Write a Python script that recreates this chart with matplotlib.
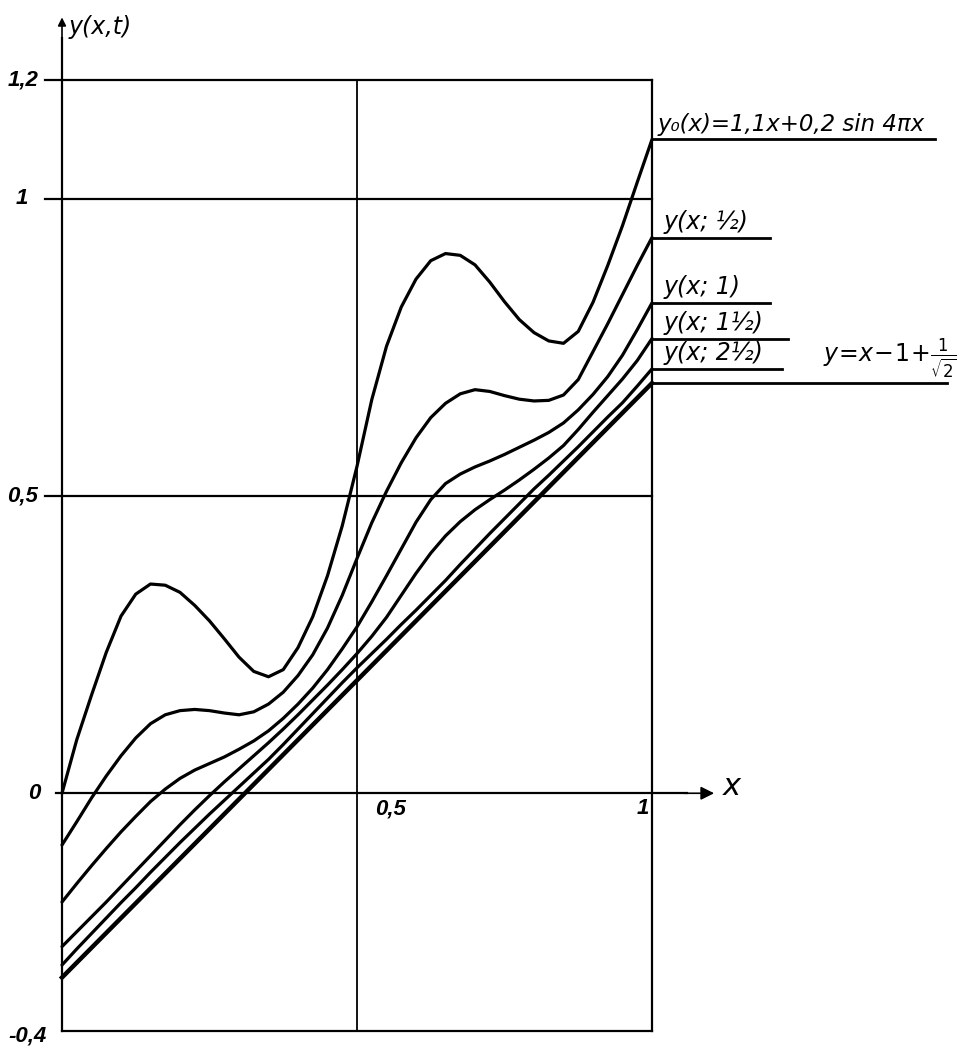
import matplotlib
matplotlib.use("Agg")
import matplotlib.pyplot as plt

# ---- data ----
X = [i * 0.025 for i in range(41)]

Y0 = [0.0, 0.09, 0.165, 0.237, 0.298, 0.335, 0.352, 0.350, 0.338, 0.316,
      0.290, 0.260, 0.229, 0.205, 0.196, 0.208, 0.245, 0.297, 0.366, 0.450,
      0.550, 0.662, 0.752, 0.818, 0.865, 0.896, 0.908, 0.905, 0.889, 0.860,
      0.827, 0.797, 0.775, 0.761, 0.757, 0.777, 0.826, 0.888, 0.955, 1.028, 1.10]

Y_HALF = [-0.087, -0.048, -0.008, 0.029, 0.063, 0.093, 0.117, 0.132, 0.139, 0.141,
          0.139, 0.135, 0.132, 0.137, 0.150, 0.170, 0.198, 0.233, 0.278, 0.333,
          0.395, 0.455, 0.508, 0.556, 0.598, 0.632, 0.656, 0.672, 0.679, 0.676,
          0.669, 0.663, 0.660, 0.661, 0.670, 0.696, 0.743, 0.790, 0.839, 0.888, 0.935]

Y_ONE = [-0.183, -0.152, -0.122, -0.093, -0.065, -0.039, -0.014, 0.007, 0.025, 0.039,
         0.05, 0.061, 0.074, 0.088, 0.105, 0.126, 0.15, 0.177, 0.208, 0.243,
         0.28, 0.322, 0.366, 0.411, 0.456, 0.494, 0.521, 0.537, 0.549, 0.559,
         0.57, 0.582, 0.594, 0.607, 0.623, 0.645, 0.671, 0.701, 0.737, 0.780, 0.825]

Y_ONE_HALF = [-0.258, -0.233, -0.208, -0.183, -0.157, -0.131, -0.105, -0.079, -0.053, -0.028,
              -0.004, 0.019, 0.041, 0.063, 0.085, 0.108, 0.132, 0.157, 0.182, 0.208,
              0.235, 0.264, 0.296, 0.333, 0.370, 0.404, 0.433, 0.457, 0.477, 0.494,
              0.51, 0.527, 0.545, 0.564, 0.585, 0.612, 0.641, 0.669, 0.697, 0.728, 0.765]

Y_TWO_HALF = [-0.289, -0.262, -0.236, -0.21, -0.184, -0.159, -0.133, -0.108, -0.083, -0.059,
              -0.035, -0.012, 0.011, 0.034, 0.057, 0.082, 0.108, 0.134, 0.160, 0.186,
              0.211, 0.235, 0.259, 0.284, 0.308, 0.333, 0.358, 0.385, 0.411, 0.437,
              0.462, 0.487, 0.512, 0.535, 0.559, 0.583, 0.608, 0.633, 0.657, 0.685, 0.714]

X_ASYM = [0.0, 1.0]
Y_ASYM = [-0.31, 0.69]

CURVE_LABELS = [
    "y\u2080(x)=1,1x+0,2 sin 4\u03c0x",
    "y(x; \u00bd)",
    "y(x; 1)",
    "y(x; 1\u00bd)",
    "y(x; 2\u00bd)",
    r"$y\!=\!x\!-\!1\!+\!\frac{1}{\sqrt{2}}$",
]
LEADER_END = [1.48, 1.20, 1.20, 1.23, 1.22, 1.50]

Y_TICKS = [1.2, 1.0, 0.5, 0.0, -0.4]
Y_TICK_LABELS = ["1,2", "1", "0,5", "0", "-0,4"]
X_TICKS = [0.5, 1.0]
X_TICK_LABELS = ["0,5", "1"]

# ---- figure ----
W, H = 967, 1049
fig = plt.figure(figsize=(W / 100, H / 100), dpi=100)
left_px, right_px, top_px, bot_px = 62, 652, 80, 1031
ax = fig.add_axes([left_px / W, 1 - bot_px / H, (right_px - left_px) / W, (bot_px - top_px) / H])
ax.set_xlim(0, 1)
ax.set_ylim(-0.4, 1.2)
ax.axis("off")

k = "black"
grid_lw = 1.6
# frame and grid lines
for yv in [1.2, 1.0, 0.5]:
    ax.plot([-0.028, 1.0], [yv, yv], color=k, lw=grid_lw, clip_on=False)
ax.plot([0, 1.0], [-0.4, -0.4], color=k, lw=grid_lw, clip_on=False)
ax.plot([0.5, 0.5], [-0.4, 1.2], color=k, lw=1.3, clip_on=False)
ax.plot([1.0, 1.0], [-0.4, 1.2], color=k, lw=grid_lw, clip_on=False)
# y axis with arrow
ax.plot([0, 0], [-0.4, 1.27], color=k, lw=grid_lw, clip_on=False)
ax.annotate("", xy=(0, 1.31), xytext=(0, 1.26),
            arrowprops=dict(arrowstyle="-|>", color=k, lw=1.2, mutation_scale=12),
            annotation_clip=False)
# x axis with arrow
ax.plot([-0.01, 1.06], [0, 0], color=k, lw=grid_lw, clip_on=False)
ax.annotate("", xy=(1.11, 0.0), xytext=(1.05, 0.0),
            arrowprops=dict(arrowstyle="-|>", color=k, lw=1.2, mutation_scale=20),
            annotation_clip=False)

# curves
series = [Y0, Y_HALF, Y_ONE, Y_ONE_HALF, Y_TWO_HALF]
for ys in series:
    ax.plot(X, ys, color=k, lw=2.3, solid_capstyle="round", solid_joinstyle="round",
            clip_on=False)
ax.plot(X_ASYM, Y_ASYM, color=k, lw=3.2, clip_on=False)

# leader lines and labels
ends = [s[-1] for s in series] + [Y_ASYM[-1]]
label_x = [1.01, 1.02, 1.02, 1.02, 1.02, 1.29]
label_fs = [16.5, 17, 17, 17, 17, 17]
for i, (yend, xend, lab) in enumerate(zip(ends, LEADER_END, CURVE_LABELS)):
    ax.plot([1.0, xend], [yend, yend], color=k, lw=2.0, clip_on=False)
    ax.text(label_x[i], yend + 0.006, lab, fontsize=label_fs[i], fontstyle="italic",
            ha="left", va="bottom", clip_on=False)

# tick labels
tick_font = dict(fontsize=16, fontstyle="italic", fontweight="bold",
                 family=["Liberation Sans", "DejaVu Sans"])
y_tick_x = [-0.04, -0.058, -0.04, -0.037, -0.026]
for yv, lab, xx in zip(Y_TICKS, Y_TICK_LABELS, y_tick_x):
    dy = -0.008 if yv == -0.4 else 0.0
    ax.text(xx, yv + dy, lab, ha="right", va="center", clip_on=False, **tick_font)
ax.text(0.53, -0.008, X_TICK_LABELS[0], ha="left", va="top", clip_on=False, **tick_font)
ax.text(0.985, -0.008, X_TICK_LABELS[1], ha="center", va="top", clip_on=False, **tick_font)

# axis titles
ax.text(0.012, 1.29, "y(x,t)", fontsize=17, fontstyle="italic", ha="left", va="center",
        clip_on=False)
ax.text(1.12, 0.012, "x", fontsize=22, fontstyle="italic", ha="left", va="center",
        clip_on=False)

fig.savefig("out.png", dpi=100, facecolor="white")
